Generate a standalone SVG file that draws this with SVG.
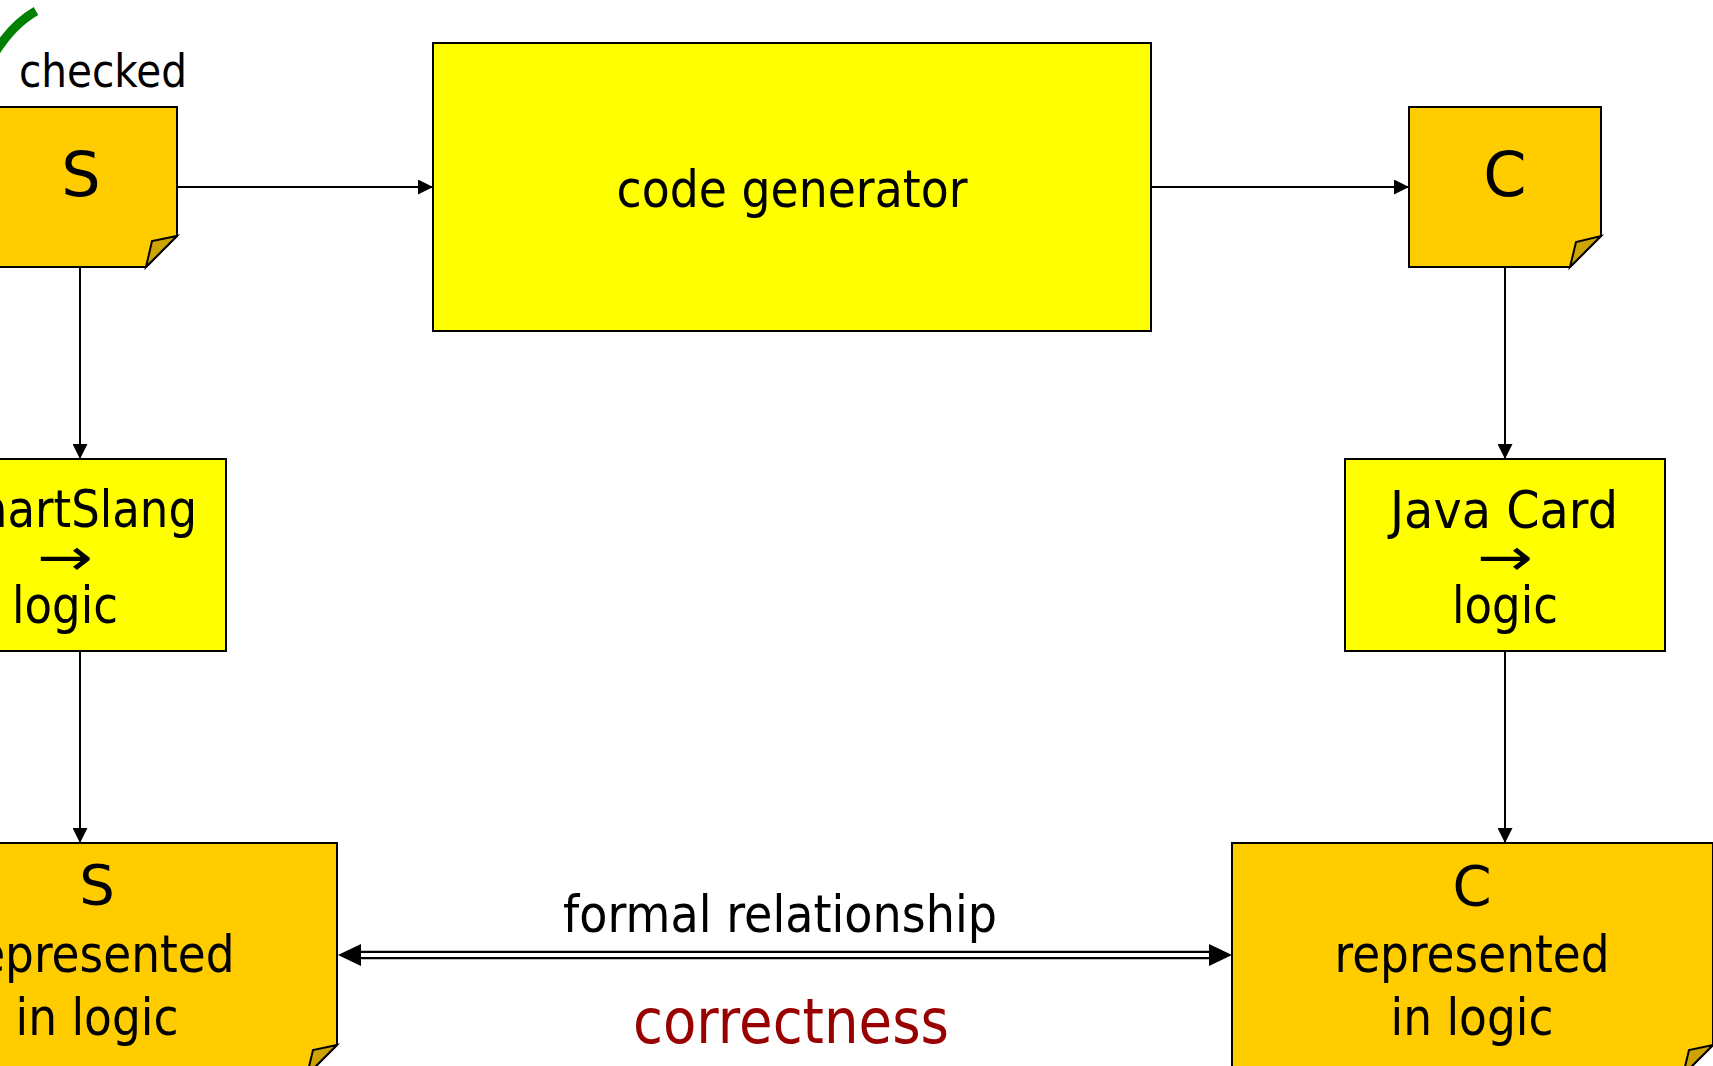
<svg xmlns="http://www.w3.org/2000/svg" width="1713" height="1066" viewBox="0 0 1713 1066">
  <style>
    .proc { fill: #FFFF00; stroke: #000; stroke-width: 2; }
    .doc { fill: #FFCC00; stroke: #000; stroke-width: 2; stroke-linejoin: miter; }
    .fold { fill: #CCA300; stroke: #000; stroke-width: 2; stroke-linejoin: miter; }
    .conn { fill: none; stroke: #000; stroke-width: 2; }
    text { font-family: "DejaVu Sans", "Liberation Sans", sans-serif; fill: #000; text-anchor: middle; }
    .t52 { font-size: 52px; }
    .big { font-size: 62px; }
    .mid { font-size: 56px; }
    .small { font-size: 46px; }
    .red { fill: #990000; font-size: 62px; }
  </style>
  <defs>
    <marker id="arrow" markerUnits="userSpaceOnUse" viewBox="0 0 15 15" markerWidth="15" markerHeight="15" refX="15" refY="7.5" orient="auto">
      <path d="M0,0 L15,7.5 L0,15 z" fill="#000"/>
    </marker>
  </defs>

  <!-- tick mark above the source document -->
  <path d="M -8,58 Q 10,26 36,11" fill="none" stroke="#008000" stroke-width="9"/>
  <text class="small" x="103" y="87" textLength="168" lengthAdjust="spacingAndGlyphs">checked</text>

  <g id="connectors">
    <line class="conn" x1="177" y1="187" x2="433" y2="187" marker-end="url(#arrow)"/>
    <line class="conn" x1="1151" y1="187" x2="1409" y2="187" marker-end="url(#arrow)"/>
    <line class="conn" x1="80" y1="267" x2="80" y2="459" marker-end="url(#arrow)"/>
    <line class="conn" x1="80" y1="651" x2="80" y2="843" marker-end="url(#arrow)"/>
    <line class="conn" x1="1505" y1="267" x2="1505" y2="459" marker-end="url(#arrow)"/>
    <line class="conn" x1="1505" y1="651" x2="1505" y2="843" marker-end="url(#arrow)"/>
    <!-- double-line two-headed relation -->
    <line x1="355" y1="955" x2="1215" y2="955" stroke="#000" stroke-width="8.5"/>
    <line x1="355" y1="955" x2="1215" y2="955" stroke="#fff" stroke-width="4"/>
    <polygon points="338,955 361,944 361,966" fill="#000"/>
    <polygon points="1232,955 1209,944 1209,966" fill="#000"/>
    <text class="t52" x="780" y="932" textLength="434" lengthAdjust="spacingAndGlyphs">formal relationship</text>
    <text class="red" x="791" y="1043" textLength="316" lengthAdjust="spacingAndGlyphs">correctness</text>
  </g>

  <g id="source-doc">
    <path class="doc" d="M -16,107 L 177,107 L 177,236 L 146,267 L -16,267 Z"/>
    <path class="fold" d="M 146,267 L 152,241 L 177,236 Z"/>
    <text class="big" x="81" y="196">S</text>
  </g>

  <g id="code-generator">
    <rect class="proc" x="433" y="43" width="718" height="288"/>
    <text class="t52" x="792" y="207" textLength="351" lengthAdjust="spacingAndGlyphs">code generator</text>
  </g>

  <g id="target-doc">
    <path class="doc" d="M 1409,107 L 1601,107 L 1601,236 L 1570,267 L 1409,267 Z"/>
    <path class="fold" d="M 1570,267 L 1576,242 L 1601,236 Z"/>
    <text class="big" x="1505" y="196">C</text>
  </g>

  <g id="smartslang-to-logic">
    <rect class="proc" x="-95" y="459" width="321" height="192"/>
    <text class="t52" x="66" y="527" textLength="262" lengthAdjust="spacingAndGlyphs">SmartSlang</text>
    <text class="t52" x="65" y="575" textLength="56" lengthAdjust="spacingAndGlyphs">→</text>
    <text class="t52" x="65" y="623" textLength="106" lengthAdjust="spacingAndGlyphs">logic</text>
  </g>

  <g id="javacard-to-logic">
    <rect class="proc" x="1345" y="459" width="320" height="192"/>
    <text class="t52" x="1504" y="528" textLength="228" lengthAdjust="spacingAndGlyphs">Java Card</text>
    <text class="t52" x="1505" y="575" textLength="56" lengthAdjust="spacingAndGlyphs">→</text>
    <text class="t52" x="1505" y="623" textLength="106" lengthAdjust="spacingAndGlyphs">logic</text>
  </g>

  <g id="source-in-logic">
    <path class="doc" d="M -143,843 L 337,843 L 337,1045 L 307,1075 L -143,1075 Z"/>
    <path class="fold" d="M 307,1075 L 313,1050 L 337,1045 Z"/>
    <text class="mid" x="97" y="904">S</text>
    <text class="t52" x="97" y="972" textLength="275" lengthAdjust="spacingAndGlyphs">represented</text>
    <text class="t52" x="97" y="1035" textLength="163" lengthAdjust="spacingAndGlyphs">in logic</text>
  </g>

  <g id="target-in-logic">
    <path class="doc" d="M 1232,843 L 1713,843 L 1713,1045 L 1683,1075 L 1232,1075 Z"/>
    <path class="fold" d="M 1683,1075 L 1689,1050 L 1713,1045 Z"/>
    <text class="mid" x="1472" y="905">C</text>
    <text class="t52" x="1472" y="972" textLength="275" lengthAdjust="spacingAndGlyphs">represented</text>
    <text class="t52" x="1472" y="1035" textLength="163" lengthAdjust="spacingAndGlyphs">in logic</text>
  </g>
</svg>
